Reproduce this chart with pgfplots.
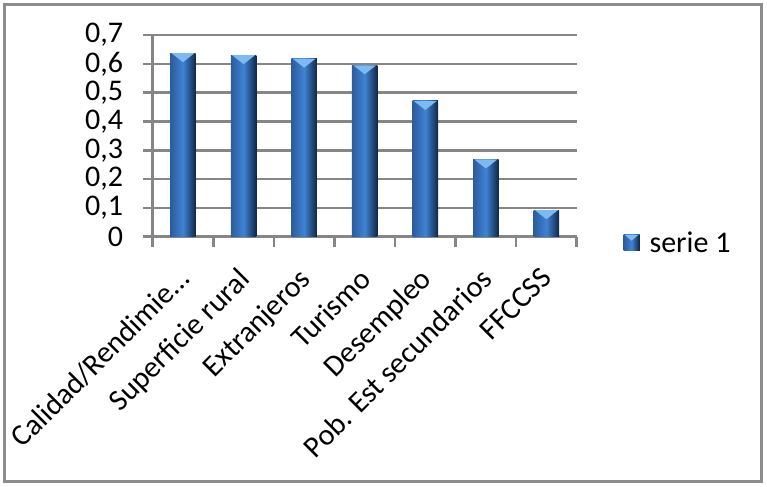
\documentclass[border=0pt]{standalone}
\usepackage{pgfplots}
\usepackage{pgfplotstable}
\pgfplotsset{compat=1.18}
\usepackage{fontspec}
\setmainfont{Carlito}

\definecolor{gridgray}{HTML}{868686}
\definecolor{frame}{HTML}{8C8C8C}
\definecolor{barleft}{HTML}{2C5C9C}
\definecolor{barmid}{HTML}{3F82D4}
\definecolor{barright}{HTML}{0F2746}
\definecolor{bartop}{HTML}{7DB9F2}

\pgfdeclareplotmark{bartop}{%
  \pgfpathmoveto{\pgfpoint{-11.5bp}{0bp}}%
  \pgfpathlineto{\pgfpoint{11.5bp}{0bp}}%
  \pgfpathlineto{\pgfpoint{0bp}{-9bp}}%
  \pgfpathclose
  \pgfusepathqfill}

\newcommand{\lbl}{\fontsize{30bp}{36bp}\selectfont}

% serie 1
\pgfplotstableread{
x y
0 0.637
1 0.630
2 0.618
3 0.595
4 0.471
5 0.268
6 0.092
}\bardata

\begin{document}
\begin{tikzpicture}
\useasboundingbox (0,0) rectangle (767bp,487bp);
\draw[frame, line width=3bp] (4.5bp,5.5bp) rectangle (761.5bp,482.5bp);

\begin{axis}[
    at={(152.7bp,250.3bp)}, anchor=south west,
    scale only axis,
    width=424bp, height=201.7bp,
    xmin=-0.5, xmax=6.5,
    ymin=0, ymax=0.7,
    axis x line*=bottom, axis y line*=left,
    axis line style={gridgray, line width=2.5bp, -},
    ymajorgrids,
    major grid style={gridgray, line width=2.5bp},
    ytick={0,0.1,...,0.7},
    xtick={0,...,6},
    xticklabels={Calidad/Rendimie…, Superficie rural, Extranjeros, Turismo, Desempleo, Pob. Est secundarios, FFCCSS},
    minor xtick={-0.5,0.5,...,6.5},
    tick align=outside,
    major tick length=9.4bp,
    minor tick length=10bp,
    x tick style={draw=none},
    minor x tick style={draw=gridgray, line width=2.5bp},
    y tick style={gridgray, line width=2.5bp},
    /pgf/number format/assume math mode=true,
    /pgf/number format/use comma,
    /pgf/number format/fixed,
    /pgf/number format/precision=1,
    yticklabel style={font=\lbl, inner sep=0pt, anchor=east, xshift=-20bp},
    xticklabel style={font=\lbl, inner sep=0pt, xshift=-7bp, yshift=-20bp,
        rotate=45, anchor=north east},
    legend style={at={(1.11,-0.03)}, anchor=west, draw=none, fill=none,
        font=\lbl, inner sep=0pt},
    legend cell align=left,
    legend image code/.code={%
        \fill[left color=barleft, right color=barright, middle color=barmid]
            (0bp,-8bp) rectangle (16bp,8bp);
        \fill[bartop] (1bp,8bp) -- (15bp,8bp) -- (8bp,2bp) -- cycle;
        \path (24bp,0bp);},
    clip=false,
]
\pgfplotsinvokeforeach{0,...,6}{
  \addplot[ybar, bar width=25.5bp, bar shift=0pt, draw=none, forget plot,
      left color=barleft, right color=barright, middle color=barmid,
      restrict x to domain=#1:#1]
      table[x=x, y=y] {\bardata};
}
\addplot[only marks, mark=bartop, color=bartop, forget plot]
    table[x=x, y=y] {\bardata};
\addlegendimage{draw=none}
\addlegendentry{serie 1}
\end{axis}
\end{tikzpicture}
\end{document}
